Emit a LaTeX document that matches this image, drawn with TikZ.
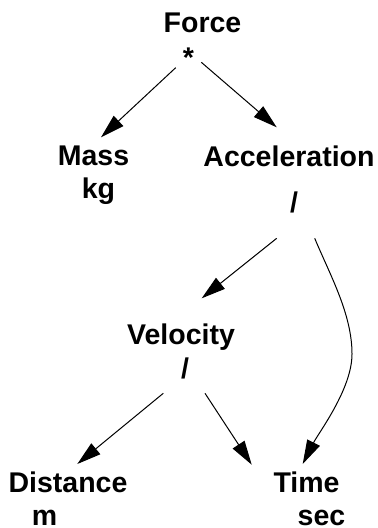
\documentclass[tikz,border=0pt]{standalone}
\usepackage{fontspec}
\setmainfont{Liberation Sans}
\usetikzlibrary{arrows.meta}

\begin{document}
\begin{tikzpicture}[x=0.5pt, y=-0.5pt, >={Triangle[length=12pt,width=7pt]},
  term/.style={anchor=base, inner sep=0pt, font=\fontsize{14.25}{17}\selectfont\bfseries},
  link/.style={->, line width=0.5pt}]

\useasboundingbox (0,0) rectangle (378,528);

% Top node: Force = Mass * Acceleration
\node[term] (force) at (202.5,32.5) {Force};
\node[term] (forceop) at (188.5,68) {*};

% Second row
\node[term] (mass) at (93.5,166) {Mass};
\node[term] (massunit) at (98.5,199) {kg};
\node[term] (accel) at (289,166.5) {Acceleration};
\node[term] (accelop) at (294,212.5) {/};

% Third row
\node[term] (velo) at (181,344) {Velocity};
\node[term] (veloop) at (185,378) {/};

% Bottom row
\node[term] (dist) at (68,492) {Distance};
\node[term] (distunit) at (44.5,525) {m};
\node[term] (time) at (306.5,492) {Time};
\node[term] (timeunit) at (321.5,525) {sec};

% Connectors
\draw[link] ([shift={(-12.8,-0.3)}]forceop.base) -- ([shift={(7.5,-28.7)}]mass.base);
\draw[link] ([shift={(12.8,-5.7)}]forceop.base) -- ([shift={(-12.3,-39.2)}]accel.base);
\draw[link] ([shift={(-17.3,25.8)}]accelop.base) -- ([shift={(20.7,-45.7)}]velo.base);
\draw[link] ([shift={(20.7,25.8)}]accelop.base) .. controls (330,275) and (352,314) .. (352,354)
  .. controls (352,389) and (318.5,432.9) .. ([shift={(-3.8,-28)}]time.base);
\draw[link] ([shift={(-21.7,15.3)}]veloop.base) -- ([shift={(9.3,-28)}]dist.base);
\draw[link] ([shift={(20,15.3)}]veloop.base) -- ([shift={(-54.8,-27.3)}]time.base);

\end{tikzpicture}
\end{document}
